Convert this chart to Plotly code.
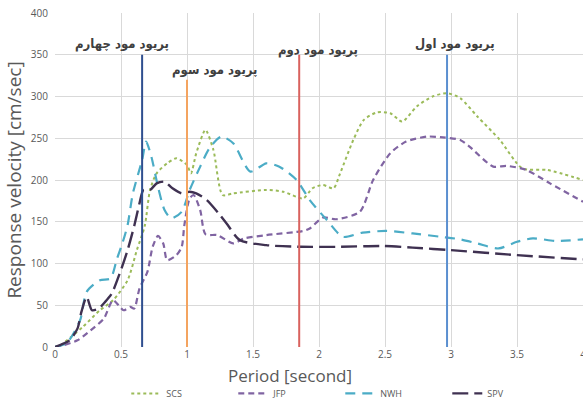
import plotly.graph_objects as go

# ---- data ----
scs_x = [0, 0.04, 0.21, 0.34, 0.44, 0.55, 0.62, 0.68, 0.72, 0.77, 0.85, 0.92, 1.0, 1.03, 1.07, 1.14, 1.2, 1.27, 1.35, 1.6, 1.73, 1.88, 1.95, 2.03, 2.11, 2.16, 2.26, 2.34, 2.44, 2.54, 2.63, 2.74, 2.86, 2.97, 3.07, 3.2, 3.37, 3.54, 3.73, 4.0]
scs_y = [0, 2, 24, 44, 56, 80, 116, 145, 188, 208, 220, 226, 218, 208, 232, 260, 236, 182, 184, 188, 186, 178, 190, 194, 190, 208, 248, 272, 281, 280, 270, 288, 300, 304, 298, 276, 248, 214, 212, 200]

jfp_x = [0, 0.06, 0.17, 0.27, 0.37, 0.44, 0.52, 0.57, 0.6, 0.64, 0.7, 0.74, 0.78, 0.82, 0.85, 0.92, 0.96, 0.98, 1.02, 1.05, 1.1, 1.14, 1.23, 1.35, 1.43, 1.6, 1.88, 1.93, 2.03, 2.13, 2.31, 2.41, 2.54, 2.66, 2.82, 2.94, 3.07, 3.14, 3.32, 3.42, 3.57, 3.75, 4.0]
jfp_y = [0, 2, 8, 20, 34, 56, 44, 48, 46, 70, 90, 120, 133, 124, 104, 110, 120, 146, 178, 182, 164, 135, 134, 124, 130, 134, 139, 142, 155, 153, 162, 200, 232, 246, 252, 251, 248, 240, 216, 217, 212, 196, 174]

nwh_x = [0, 0.09, 0.19, 0.24, 0.34, 0.42, 0.47, 0.51, 0.55, 0.59, 0.66, 0.69, 0.73, 0.78, 0.83, 0.88, 0.96, 1.02, 1.1, 1.17, 1.26, 1.35, 1.48, 1.6, 1.7, 1.83, 1.93, 2.06, 2.18, 2.33, 2.51, 2.71, 2.92, 3.07, 3.2, 3.36, 3.5, 3.62, 3.8, 4.0]
nwh_y = [0, 5, 32, 66, 80, 82, 106, 124, 146, 184, 224, 246, 228, 192, 164, 154, 162, 188, 216, 238, 252, 244, 210, 220, 216, 200, 176, 152, 132, 137, 139, 136, 132, 129, 124, 118, 126, 130, 127, 129]

spv_x = [0, 0.11, 0.17, 0.2, 0.24, 0.28, 0.33, 0.38, 0.43, 0.49, 0.55, 0.6, 0.64, 0.67, 0.72, 0.77, 0.83, 0.89, 0.96, 1.02, 1.07, 1.15, 1.24, 1.3, 1.4, 1.6, 1.86, 2.16, 2.48, 2.71, 3.0, 3.5, 4.0]
spv_y = [0, 8, 22, 42, 60, 44, 46, 54, 64, 88, 116, 145, 172, 188, 188, 196, 198, 190, 184, 186, 184, 176, 160, 148, 128, 122, 120, 120, 121, 119, 116, 110, 105]

series_names = ["SCS", "JFP", "NWH", "SPV"]

mode_periods = [2.97, 1.85, 1.0, 0.66]
mode_tops = [350, 350, 320, 350]
mode_labels = ["پریود مود اول", "پریود مود دوم", "پریود مود سوم", "پریود مود چهارم"]
label_x = [3.03, 1.99, 1.21, 0.51]
label_y = [364, 356, 332, 363]

x_ticks = [0, 0.5, 1, 1.5, 2, 2.5, 3, 3.5, 4]
y_ticks = [0, 50, 100, 150, 200, 250, 300, 350, 400]

x_title = "Period [second]"
y_title = "Response velocity [cm/sec]"

# ---- styles ----
styles = [
    dict(color="#9BBB59", dash="dot", width=2),
    dict(color="#8064A2", dash="6px,4px", width=2.2),
    dict(color="#4BACC6", dash="10px,7px", width=2.2),
    dict(color="#3F3151", dash="16px,6px", width=2.4),
]
mode_colors = ["#5B8FD0", "#D9625E", "#F4A460", "#2F4F8F"]

fig = go.Figure()
for name, xs, ys, st in zip(series_names, [scs_x, jfp_x, nwh_x, spv_x],
                            [scs_y, jfp_y, nwh_y, spv_y], styles):
    fig.add_trace(go.Scatter(x=xs, y=ys, name=name, mode="lines",
                             line=dict(color=st["color"], dash=st["dash"], width=st["width"],
                                       shape="spline", smoothing=0.7)))

for p, top, c in zip(mode_periods, mode_tops, mode_colors):
    fig.add_trace(go.Scatter(x=[p, p], y=[0, top], mode="lines", showlegend=False,
                             line=dict(color=c, width=2), hoverinfo="skip"))

for t, lx, ly in zip(mode_labels, label_x, label_y):
    fig.add_annotation(x=lx, y=ly, text="<b>" + t + "</b>", showarrow=False,
                       font=dict(family="DejaVu Sans Condensed", size=13, color="#404040"))

# x-axis title placed under the tick labels
fig.add_annotation(x=0.445, y=-0.086, xref="paper", yref="paper", text=x_title,
                   showarrow=False, xanchor="center", yanchor="middle",
                   font=dict(family="Open Sans", size=17, color="#595959"))

fig.update_layout(
    width=583, height=399,
    margin=dict(l=55, r=0, t=13, b=52, autoexpand=False),
    paper_bgcolor="white", plot_bgcolor="white",
    font=dict(family="Open Sans", color="#595959"),
    xaxis=dict(range=[0, 4], tickvals=x_ticks, showgrid=True, gridcolor="#D9D9D9",
               zeroline=False, tickfont=dict(size=10, color="#595959"),
               ticks="", ticklabeloverflow="allow", automargin=False, showline=False),
    yaxis=dict(range=[0, 400], tickvals=y_ticks, showgrid=True, gridcolor="#D9D9D9",
               zeroline=False, tickfont=dict(size=10, color="#595959"),
               ticks="outside", ticklen=4, tickcolor="rgba(0,0,0,0)", automargin=False,
               title=dict(text=y_title, font=dict(size=19, color="#595959"), standoff=4),
               showline=False),
    legend=dict(orientation="h", x=0.135, xanchor="left", yref="container", y=0.014, yanchor="middle",
                font=dict(size=9, color="#595959"), entrywidth=62, entrywidthmode="pixels",
                itemwidth=30, bgcolor="rgba(0,0,0,0)"),
    showlegend=True,
)

fig.write_html("out.html")
